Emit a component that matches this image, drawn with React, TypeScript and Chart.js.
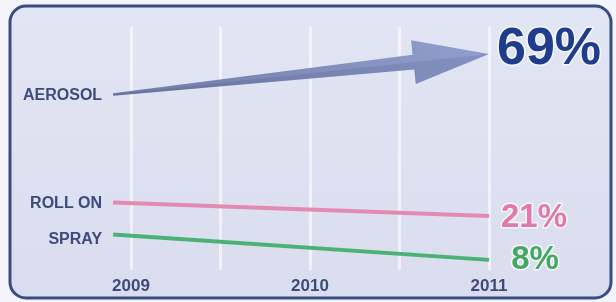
import { useEffect, useRef } from "react";
import { Chart, registerables } from "chart.js";

Chart.register(...registerables);

const YEARS = [2009, 2010, 2011];
const GRID_STEPS = [2009, 2009.5, 2010, 2010.5, 2011];
const POINT_YEARS = [2008.9, 2011];
const SERIES = ["AEROSOL", "ROLL ON", "SPRAY"];
const AEROSOL = [57, 69];
const ROLL_ON = [25, 21];
const SPRAY = [15.5, 8];
const END_LABELS = ["69%", "21%", "8%"];

const FONT = "'Liberation Sans', Arial, sans-serif";

const toPoints = (vals: number[]) => vals.map((v, i) => ({ x: POINT_YEARS[i], y: v }));

const decor = {
  id: "decor",
  beforeDraw(chart: any) {
    const ctx = chart.ctx as CanvasRenderingContext2D;
    ctx.save();
    ctx.fillStyle = "#f4f5fa";
    ctx.fillRect(0, 0, chart.width, chart.height);
    const x = 10, y = 6, w = 601, h = 292, r = 16;
    const g = ctx.createLinearGradient(0, y, 0, y + h);
    g.addColorStop(0, "#e2e5f3");
    g.addColorStop(1, "#d9ddee");
    ctx.beginPath();
    ctx.roundRect(x, y, w, h, r);
    ctx.fillStyle = g;
    ctx.fill();
    ctx.lineWidth = 3;
    ctx.strokeStyle = "#3b4a80";
    ctx.stroke();
    ctx.restore();
  },
  afterDatasetsDraw(chart: any) {
    const ctx = chart.ctx as CanvasRenderingContext2D;
    ctx.save();
    // Aerosol arrow
    const meta = chart.getDatasetMeta(0);
    const p0 = meta.data[0];
    const p1 = meta.data[meta.data.length - 1];
    const dx = p1.x - p0.x, dy = p1.y - p0.y;
    const len = Math.hypot(dx, dy);
    const d = { x: dx / len, y: dy / len };
    const n = { x: -d.y, y: d.x };
    const headLen = 76, headHalf = 22, shaftStart = 1.3, shaftEnd = 7.5;
    const base = { x: p1.x - d.x * headLen, y: p1.y - d.y * headLen };
    const P = (p: any, k: number) => [p.x + n.x * k, p.y + n.y * k];
    const poly = [
      P(p0, -shaftStart), P(base, -shaftEnd), P(base, -headHalf), [p1.x, p1.y],
      P(base, headHalf), P(base, shaftEnd), P(p0, shaftStart),
    ];
    const grad = ctx.createLinearGradient(p0.x, p0.y, p1.x, p1.y);
    grad.addColorStop(0, "#6f7aa5");
    grad.addColorStop(1, "#929fce");
    ctx.beginPath();
    poly.forEach(([x, y], i) => (i ? ctx.lineTo(x, y) : ctx.moveTo(x, y)));
    ctx.closePath();
    ctx.fillStyle = grad;
    ctx.fill();
    // darker lower half for depth
    const lower = [[p0.x, p0.y], [p1.x, p1.y], P(base, headHalf), P(base, shaftEnd), P(p0, shaftStart)];
    ctx.beginPath();
    lower.forEach(([x, y], i) => (i ? ctx.lineTo(x, y) : ctx.moveTo(x, y)));
    ctx.closePath();
    ctx.fillStyle = "rgba(40,50,95,0.12)";
    ctx.fill();

    // series names
    ctx.font = `bold 16px ${FONT}`;
    ctx.fillStyle = "#3d4a7c";
    ctx.textAlign = "right";
    ctx.textBaseline = "middle";
    chart.data.datasets.forEach((_: any, i: number) => {
      const m = chart.getDatasetMeta(i);
      const s = m.data[0];
      ctx.fillText(SERIES[i], s.x - 11, s.y + (i === 2 ? 5 : 1));
    });

    // end labels
    const styles = [
      { font: `bold 52px ${FONT}`, color: "#1f3d8c", align: "left", dx: 8, dy: -4 },
      { font: `bold 33px ${FONT}`, color: "#e07aa6", align: "center", dx: 45, dy: 2 },
      { font: `bold 33px ${FONT}`, color: "#44a862", align: "center", dx: 46, dy: 0 },
    ];
    chart.data.datasets.forEach((_: any, i: number) => {
      const m = chart.getDatasetMeta(i);
      const e = m.data[m.data.length - 1];
      const st = styles[i];
      ctx.font = st.font;
      ctx.textAlign = st.align as CanvasTextAlign;
      ctx.lineJoin = "round";
      ctx.lineWidth = 3;
      ctx.strokeStyle = "rgba(255,255,255,0.75)";
      ctx.strokeText(END_LABELS[i], e.x + st.dx, e.y + st.dy);
      ctx.fillStyle = st.color;
      ctx.fillText(END_LABELS[i], e.x + st.dx, e.y + st.dy);
    });
    ctx.restore();
  },
};

export default function App() {
  const ref = useRef<HTMLCanvasElement>(null);
  useEffect(() => {
    const chart = new Chart(ref.current!, {
      type: "line",
      data: {
        datasets: [
          { label: SERIES[0], data: toPoints(AEROSOL), borderWidth: 0, showLine: false, pointRadius: 0 },
          { label: SERIES[1], data: toPoints(ROLL_ON), borderColor: "#e48ab0", borderWidth: 4, pointRadius: 0 },
          { label: SERIES[2], data: toPoints(SPRAY), borderColor: "#4bb277", borderWidth: 4, pointRadius: 0 },
        ],
      },
      options: {
        animation: false,
        responsive: false,
        devicePixelRatio: 1,
        layout: { padding: { left: 41.5, right: 37.5, top: 27, bottom: 0 } },
        plugins: { legend: { display: false }, tooltip: { enabled: false } },
        scales: {
          x: {
            type: "linear",
            min: 2008.5,
            max: 2011.5,
            afterBuildTicks: (s: any) => {
              s.ticks = GRID_STEPS.map((v) => ({ value: v }));
            },
            afterFit: (s: any) => {
              s.height = 32;
            },
            ticks: {
              autoSkip: false,
              maxRotation: 0,
              padding: 6,
              color: "#3e4a7a",
              font: { family: FONT, size: 17, weight: "bold" },
              callback: (v: any) => (YEARS.includes(Number(v)) ? String(v) : ""),
            },
            grid: { color: "rgba(255,255,255,0.6)", lineWidth: 3, drawTicks: false },
            border: { display: false },
          },
          y: { display: false, min: 5, max: 77 },
        },
      },
      plugins: [decor],
    } as any);
    return () => chart.destroy();
  }, []);
  return (
    <div style={{ position: "fixed", left: 0, top: 0, width: 616, height: 302 }}>
      <canvas ref={ref} width={616} height={302} style={{ display: "block" }} />
    </div>
  );
}
